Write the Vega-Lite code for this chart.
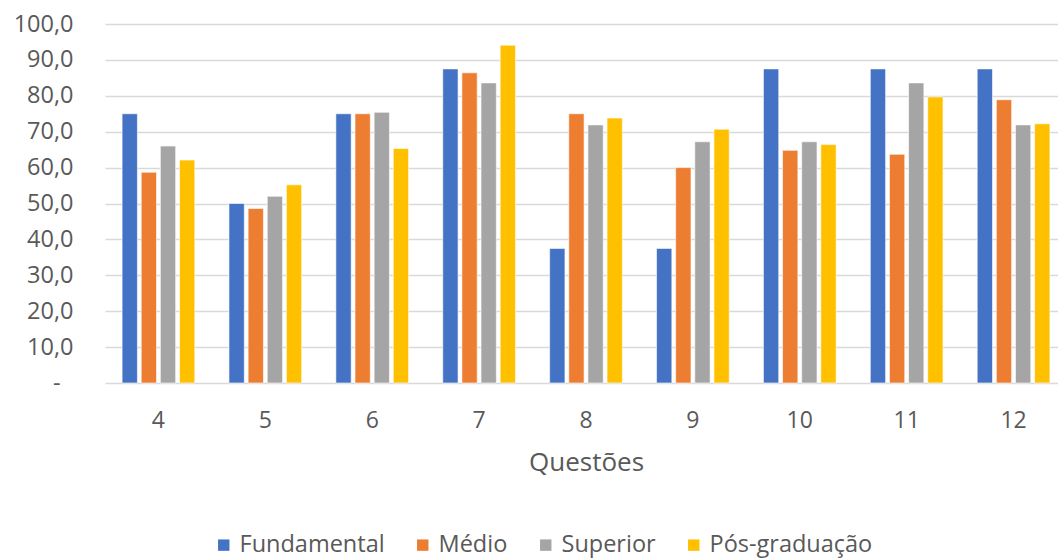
{
  "$schema": "https://vega.github.io/schema/vega-lite/v6.json",
  "width": 953,
  "height": 359,
  "autosize": "none",
  "padding": {"left": 105, "top": 24, "right": 0, "bottom": 175},
  "background": "white",
  "config": {
    "font": "Open Sans",
    "view": {"stroke": null}
  },
  "data": {
    "values": [
      {"questao": 4, "nivel": "Fundamental", "valor": 75.0},
      {"questao": 4, "nivel": "Médio", "valor": 58.7},
      {"questao": 4, "nivel": "Superior", "valor": 66.0},
      {"questao": 4, "nivel": "Pós-graduação", "valor": 62.1},
      {"questao": 5, "nivel": "Fundamental", "valor": 50.0},
      {"questao": 5, "nivel": "Médio", "valor": 48.6},
      {"questao": 5, "nivel": "Superior", "valor": 52.0},
      {"questao": 5, "nivel": "Pós-graduação", "valor": 55.2},
      {"questao": 6, "nivel": "Fundamental", "valor": 75.0},
      {"questao": 6, "nivel": "Médio", "valor": 75.0},
      {"questao": 6, "nivel": "Superior", "valor": 75.4},
      {"questao": 6, "nivel": "Pós-graduação", "valor": 65.3},
      {"questao": 7, "nivel": "Fundamental", "valor": 87.5},
      {"questao": 7, "nivel": "Médio", "valor": 86.4},
      {"questao": 7, "nivel": "Superior", "valor": 83.6},
      {"questao": 7, "nivel": "Pós-graduação", "valor": 94.1},
      {"questao": 8, "nivel": "Fundamental", "valor": 37.5},
      {"questao": 8, "nivel": "Médio", "valor": 75.0},
      {"questao": 8, "nivel": "Superior", "valor": 71.9},
      {"questao": 8, "nivel": "Pós-graduação", "valor": 73.8},
      {"questao": 9, "nivel": "Fundamental", "valor": 37.5},
      {"questao": 9, "nivel": "Médio", "valor": 60.0},
      {"questao": 9, "nivel": "Superior", "valor": 67.2},
      {"questao": 9, "nivel": "Pós-graduação", "valor": 70.7},
      {"questao": 10, "nivel": "Fundamental", "valor": 87.5},
      {"questao": 10, "nivel": "Médio", "valor": 64.8},
      {"questao": 10, "nivel": "Superior", "valor": 67.2},
      {"questao": 10, "nivel": "Pós-graduação", "valor": 66.4},
      {"questao": 11, "nivel": "Fundamental", "valor": 87.5},
      {"questao": 11, "nivel": "Médio", "valor": 63.7},
      {"questao": 11, "nivel": "Superior", "valor": 83.6},
      {"questao": 11, "nivel": "Pós-graduação", "valor": 79.7},
      {"questao": 12, "nivel": "Fundamental", "valor": 87.5},
      {"questao": 12, "nivel": "Médio", "valor": 78.9},
      {"questao": 12, "nivel": "Superior", "valor": 71.9},
      {"questao": 12, "nivel": "Pós-graduação", "valor": 72.2}
    ]
  },
  "mark": {"type": "bar", "stroke": "white", "strokeWidth": 0.6},
  "encoding": {
    "x": {
      "field": "questao",
      "type": "ordinal",
      "scale": {"range": [0, 962], "paddingInner": 0.284, "paddingOuter": 0.142},
      "axis": {
        "title": "Questões",
        "labelAngle": 0,
        "labelFontSize": 23,
        "labelColor": "#595959",
        "labelPadding": 26,
        "ticks": false,
        "domain": false,
        "titleFontSize": 26,
        "titleFontWeight": "normal",
        "titleColor": "#595959",
        "titlePadding": 17
      }
    },
    "xOffset": {
      "field": "nivel",
      "type": "nominal",
      "sort": ["Fundamental", "Médio", "Superior", "Pós-graduação"],
      "scale": {"paddingInner": 0.2, "paddingOuter": 0.1}
    },
    "y": {
      "field": "valor",
      "type": "quantitative",
      "scale": {"domain": [0, 100], "nice": false},
      "axis": {
        "title": null,
        "values": [0, 10, 20, 30, 40, 50, 60, 70, 80, 90, 100],
        "labelExpr": "datum.value === 0 ? '-' : replace(format(datum.value, '.1f'), '.', ',')",
        "labelFontSize": 23.5,
        "labelColor": "#595959",
        "labelPadding": {"condition": {"test": "datum.value === 0", "value": 45}, "value": 32},
        "ticks": false,
        "domain": false,
        "grid": true,
        "gridColor": "#d9d9d9",
        "gridWidth": 1.4
      }
    },
    "color": {
      "field": "nivel",
      "type": "nominal",
      "scale": {
        "domain": ["Fundamental", "Médio", "Superior", "Pós-graduação"],
        "range": ["#4472C4", "#ED7D31", "#A5A5A5", "#FFC000"]
      },
      "legend": {
        "title": null,
        "orient": "none",
        "direction": "horizontal",
        "legendX": 107,
        "legendY": 509,
        "padding": 0,
        "symbolType": "square",
        "symbolSize": 130,
        "symbolStrokeWidth": 0,
        "labelOffset": 4,
        "labelLimit": 400,
        "columnPadding": 26,
        "labelFontSize": 23.5,
        "labelColor": "#595959"
      }
    }
  }
}
